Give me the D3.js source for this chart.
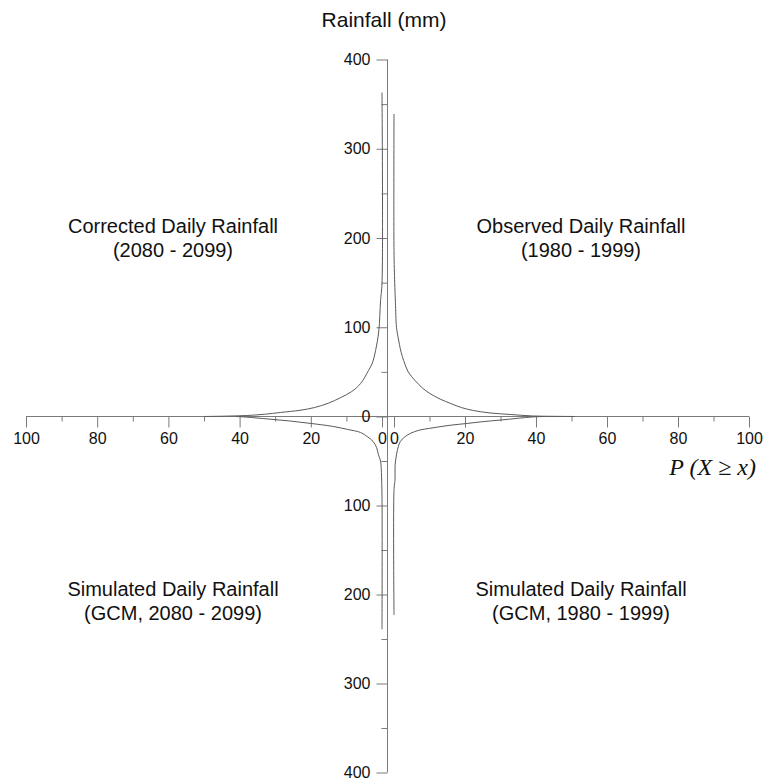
<!DOCTYPE html>
<html>
<head>
<meta charset="utf-8">
<script src="https://cdn.jsdelivr.net/npm/d3@7"></script>
<style>
  body { margin: 0; background: #fff; }
  text { font-family: "Liberation Sans", Arial, sans-serif; fill: #111; }
</style>
</head>
<body>
<div id="chart"></div>
<script>
// exceedance probability (%) and daily rainfall (mm)
var observedP   = [0, 0, 0.2, 0.4, 0.7, 1.1, 2, 2.7, 4, 6, 8, 10, 13, 16, 19, 22.4, 27, 33, 39, 45, 51];
var observedR   = [339, 186, 150, 128, 100, 90, 72, 63, 50, 40, 32, 26, 19.5, 14.5, 10, 6.7, 4, 2.2, 0.6, 0.2, 0];
var correctedP  = [0, 0, 0.4, 0.9, 1.8, 2.7, 3.8, 6, 8.5, 11.7, 15, 19, 23, 28.5, 33, 38, 44, 50];
var correctedR  = [363, 149, 130, 96, 74, 60, 51.5, 37, 28, 21, 15, 10, 7, 4.5, 2.5, 1.1, 0.4, 0];
var gcmFutP     = [0, 0, 0.2, 0.4, 1, 1.5, 2.5, 4, 6, 9.7, 14, 20, 26, 32, 38, 41];
var gcmFutR     = [239, 90, 60, 50, 43, 35, 28, 23, 18, 14.5, 11, 7.8, 5, 2.8, 0.7, 0];
var gcmBaseP    = [0, 0, 0.3, 0.3, 0.7, 1.2, 1.8, 3, 4.6, 7, 11, 15.5, 20.6, 25, 30, 35, 39, 42];
var gcmBaseR    = [223, 83, 70, 55, 43, 34, 28, 23, 19, 15.5, 12.7, 10, 7.8, 5.8, 4, 2, 0.5, 0];

var xMajor = [0, 20, 40, 60, 80, 100];
var xMinor = [10, 30, 50, 70, 90];
var yMajorUp = [0, 100, 200, 300, 400];
var yMajorDown = [100, 200, 300, 400];
var yMinor = [50, 150, 250, 350];

var quadrantLabels = [
    { q: "ul", lines: ["Corrected Daily Rainfall", "(2080 - 2099)"] },
    { q: "ur", lines: ["Observed Daily Rainfall", "(1980 - 1999)"] },
    { q: "ll", lines: ["Simulated Daily Rainfall", "(GCM, 2080 - 2099)"] },
    { q: "lr", lines: ["Simulated Daily Rainfall", "(GCM, 1980 - 1999)"] }
];

var width = 763, height = 780;
var axisColor = "#7a7a7a", curveColor = "#5a5a5a";
var axisX = 387.5;

var svg = d3.select("#chart").append("svg")
    .attr("width", width)
    .attr("height", height);

// four half scales around the origin
var xRight = d3.scaleLinear().domain([0, 100]).range([394, 749]);
var xLeft = d3.scaleLinear().domain([0, 100]).range([382, 26]);
var yUp = d3.scaleLinear().domain([0, 400]).range([416.5, 59.5]);
var yDown = d3.scaleLinear().domain([0, 400]).range([416.5, 772.5]);

function styleAxis(g) {
    g.select(".domain").remove();
    g.selectAll("line").attr("stroke", axisColor);
    g.selectAll("text").style("font-size", "16px").attr("fill", "#111");
}

// horizontal axis line
svg.append("line")
    .attr("x1", xLeft(100)).attr("x2", xRight(100))
    .attr("y1", yUp(0)).attr("y2", yUp(0))
    .attr("stroke", axisColor);

// vertical axis line
svg.append("line")
    .attr("x1", axisX).attr("x2", axisX)
    .attr("y1", yUp(400)).attr("y2", yDown(400))
    .attr("stroke", axisColor);

[xLeft, xRight].forEach(function (sc) {
    svg.append("g")
        .attr("transform", "translate(0," + yUp(0) + ")")
        .call(d3.axisBottom(sc).tickValues(xMajor).tickSize(11).tickPadding(5).tickFormat(d3.format("d")))
        .call(styleAxis);
    svg.append("g")
        .attr("transform", "translate(0," + yUp(0) + ")")
        .call(d3.axisBottom(sc).tickValues(xMinor).tickSize(5).tickFormat(""))
        .call(styleAxis);
});

svg.append("g")
    .attr("transform", "translate(" + axisX + ",0)")
    .call(d3.axisLeft(yUp).tickValues(yMajorUp).tickSize(11).tickPadding(6).tickFormat(d3.format("d")))
    .call(styleAxis);
svg.append("g")
    .attr("transform", "translate(" + axisX + ",0)")
    .call(d3.axisLeft(yDown).tickValues(yMajorDown).tickSize(11).tickPadding(6).tickFormat(d3.format("d")))
    .call(styleAxis);
[yUp, yDown].forEach(function (sc) {
    svg.append("g")
        .attr("transform", "translate(" + axisX + ",0)")
        .call(d3.axisLeft(sc).tickValues(yMinor).tickSize(6).tickFormat(""))
        .call(styleAxis);
});

// curves
var series = [
    { p: observedP, r: observedR, x: xRight, y: yUp },
    { p: correctedP, r: correctedR, x: xLeft, y: yUp },
    { p: gcmFutP, r: gcmFutR, x: xLeft, y: yDown },
    { p: gcmBaseP, r: gcmBaseR, x: xRight, y: yDown }
];

series.forEach(function (s) {
    var pts = s.p.map(function (d, i) { return [d, s.r[i]]; });
    var line = d3.line()
        .x(function (d) { return s.x(d[0]); })
        .y(function (d) { return s.y(d[1]); })
        .curve(d3.curveCatmullRom.alpha(0.5));
    svg.append("path")
        .datum(pts)
        .attr("d", line)
        .attr("fill", "none")
        .attr("stroke", curveColor)
        .attr("stroke-width", 1);
});

// titles
svg.append("text")
    .attr("x", 384).attr("y", 27)
    .attr("text-anchor", "middle")
    .style("font-size", "21px")
    .text("Rainfall (mm)");

svg.append("text")
    .attr("x", 756).attr("y", 475)
    .attr("text-anchor", "end")
    .style("font-family", "'Liberation Serif', 'Times New Roman', serif")
    .style("font-style", "italic")
    .style("font-size", "24px")
    .text("P (X \u2265 x)");

var labelPos = {
    ul: { x: 173, y: 233 },
    ur: { x: 581, y: 233 },
    ll: { x: 173, y: 596 },
    lr: { x: 581, y: 596 }
};

quadrantLabels.forEach(function (d) {
    var t = svg.append("text")
        .attr("text-anchor", "middle")
        .style("font-size", "20px");
    d.lines.forEach(function (ln, i) {
        t.append("tspan")
            .attr("x", labelPos[d.q].x)
            .attr("y", labelPos[d.q].y + i * 24)
            .text(ln);
    });
});
</script>
</body>
</html>
